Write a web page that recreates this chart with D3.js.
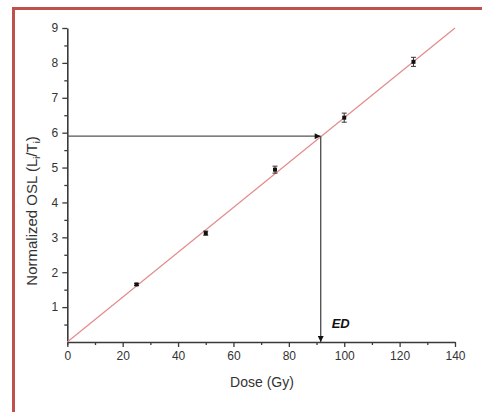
<!DOCTYPE html>
<html><head><meta charset="utf-8">
<script src="https://cdn.jsdelivr.net/npm/d3@7"></script>
<style>body{margin:0;background:#fff;}svg{display:block;font-family:"Liberation Sans",Arial,sans-serif;}</style>
</head><body>
<svg id="c" width="482" height="412"></svg>
<script>
const doses = [25, 50, 75, 100, 125];
const osl = [1.65, 3.12, 4.94, 6.43, 8.03];
const errs = [0.03, 0.06, 0.1, 0.13, 0.13];
const fitX = [0, 140];
const fitY = [0, 9];
const edDose = 91.5;
const edOsl = 5.9;
const xTicks = [0, 20, 40, 60, 80, 100, 120, 140];
const yTicks = [1, 2, 3, 4, 5, 6, 7, 8, 9];

const svg = d3.select("#c");
// red frame (top and left)
svg.append("line").attr("x1",12).attr("x2",482).attr("y1",8.5).attr("y2",8.5).attr("stroke","#c0504d").attr("stroke-width",3);
svg.append("line").attr("x1",13.5).attr("x2",13.5).attr("y1",7).attr("y2",412).attr("stroke","#c0504d").attr("stroke-width",3);

const x = d3.scaleLinear().domain([0,140]).range([67.3,455]);
const y = d3.scaleLinear().domain([0,9]).range([342,28]);

const axCol = "#3a3a3a";
// minor ticks
const gx = svg.append("g").attr("transform","translate(0,342)");
gx.call(d3.axisBottom(x).tickValues(d3.range(10,140,20)).tickSize(3).tickFormat(""));
gx.call(g=>g.selectAll(".tick line").attr("stroke",axCol).attr("stroke-width",1.3));
const gx2 = svg.append("g").attr("transform","translate(0,342)");
gx2.call(d3.axisBottom(x).tickValues(xTicks).tickSize(5).tickPadding(4).tickSizeOuter(0));
gx2.selectAll("path").attr("stroke",axCol).attr("stroke-width",1.6);
gx2.selectAll(".tick line").attr("stroke",axCol).attr("stroke-width",1.3);
gx2.selectAll("text").attr("font-size",12).attr("fill","#333").attr("font-family","Liberation Sans, Arial, sans-serif");

const gy = svg.append("g").attr("transform","translate(67.3,0)");
gy.call(d3.axisLeft(y).tickValues(d3.range(0.5,9,1)).tickSize(3).tickFormat(""));
gy.select("path").remove();
gy.selectAll(".tick line").attr("stroke",axCol).attr("stroke-width",1.3);
const gy2 = svg.append("g").attr("transform","translate(67.3,0)");
gy2.call(d3.axisLeft(y).tickValues(yTicks).tickSize(5).tickPadding(4).tickSizeOuter(0));
gy2.selectAll("path").attr("stroke",axCol).attr("stroke-width",1.6);
gy2.selectAll(".tick line").attr("stroke",axCol).attr("stroke-width",1.3);
gy2.selectAll("text").attr("font-size",12).attr("fill","#333").attr("font-family","Liberation Sans, Arial, sans-serif");

// fit line
svg.append("line").attr("x1",x(fitX[0])).attr("y1",y(fitY[0])).attr("x2",x(fitX[1])).attr("y2",y(fitY[1]))
  .attr("stroke","#e38b8b").attr("stroke-width",1.2);

// ED construction
const defs = svg.append("defs");
defs.append("marker").attr("id","ah").attr("viewBox","0 0 10 10").attr("refX",10).attr("refY",5)
  .attr("markerWidth",8).attr("markerHeight",6).attr("markerUnits","userSpaceOnUse").attr("orient","auto")
  .append("path").attr("d","M0,0L10,5L0,10Z").attr("fill","#111");
svg.append("line").attr("x1",x(0)).attr("y1",y(edOsl)).attr("x2",x(edDose)).attr("y2",y(edOsl))
  .attr("stroke","#555").attr("stroke-width",1.4).attr("marker-end","url(#ah)");
svg.append("line").attr("x1",x(edDose)).attr("y1",y(edOsl)).attr("x2",x(edDose)).attr("y2",y(0))
  .attr("stroke","#555").attr("stroke-width",1.4).attr("marker-end","url(#ah)");
svg.append("text").attr("x",x(edDose)+11).attr("y",328).attr("font-size",13).attr("font-weight","bold")
  .attr("font-style","italic").attr("fill","#111").text("ED");

// error bars and points
const pts = svg.append("g");
doses.forEach((d,i)=>{
  const cx = x(d), top = y(osl[i]+errs[i]), bot = y(osl[i]-errs[i]);
  pts.append("line").attr("x1",cx).attr("x2",cx).attr("y1",top).attr("y2",bot).attr("stroke","#333").attr("stroke-width",1);
  pts.append("line").attr("x1",cx-2.5).attr("x2",cx+2.5).attr("y1",top).attr("y2",top).attr("stroke","#333").attr("stroke-width",1);
  pts.append("line").attr("x1",cx-2.5).attr("x2",cx+2.5).attr("y1",bot).attr("y2",bot).attr("stroke","#333").attr("stroke-width",1);
  pts.append("rect").attr("x",cx-2).attr("y",y(osl[i])-2).attr("width",4).attr("height",4).attr("fill","#111");
});

// axis titles
svg.append("text").attr("x",262).attr("y",387).attr("text-anchor","middle").attr("font-size",14).attr("fill","#333").text("Dose (Gy)");
const yt = svg.append("text").attr("transform","translate(37,211) rotate(-90)").attr("text-anchor","middle")
  .attr("font-size",15).attr("fill","#333");
yt.append("tspan").text("Normalized OSL (L");
yt.append("tspan").attr("font-size",9).attr("dy",3).text("i");
yt.append("tspan").attr("dy",-3).text("/T");
yt.append("tspan").attr("font-size",9).attr("dy",3).text("i");
yt.append("tspan").attr("dy",-3).text(")");
</script>
</body></html>
